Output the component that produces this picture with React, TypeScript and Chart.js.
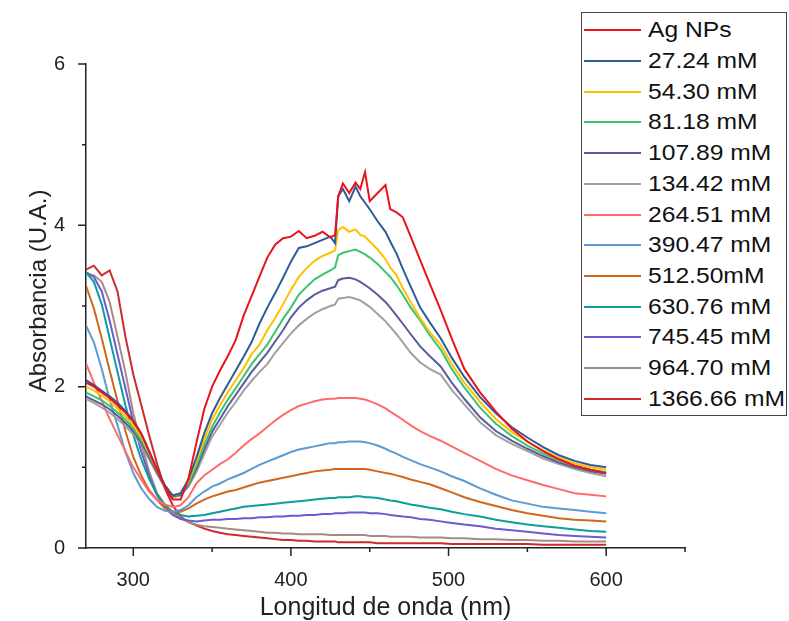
import React, { useEffect, useRef } from "react";
import { Chart, registerables } from "chart.js";

Chart.register(...registerables);

// ---- data ----
const WAVELENGTHS = [270,275,280,285,290,295,300,305,310,315,320,325,330,335,340,345,350,355,360,365,370,375,380,385,390,395,400,405,410,415,420,425,428,430,433,437,441,444,447,450,455,460,463,467,471,476,482,488,495,502,510,520,530,540,550,560,570,580,590,600];

const AG_NPS = [2.05,2.0,1.93,1.86,1.77,1.68,1.57,1.42,1.2,0.97,0.76,0.6,0.6,0.86,1.3,1.72,2.0,2.2,2.38,2.58,2.88,3.12,3.36,3.6,3.76,3.84,3.86,3.93,3.84,3.87,3.92,3.85,
  3.88,4.36,4.52,4.4,4.53,4.45,4.66,4.3,
  4.4,4.5,4.2,4.16,4.1,3.86,3.57,3.28,2.95,
  2.6,2.22,1.93,1.69,1.48,1.32,1.2,1.1,1.02,0.97,0.93];
const S_27_24 = [2.08,2.02,1.95,1.88,1.8,1.7,1.58,1.42,1.2,0.98,0.78,0.65,0.68,0.85,1.12,1.42,1.67,1.86,2.03,2.2,2.37,2.55,2.78,2.98,3.16,3.35,3.55,3.72,3.74,3.78,3.82,3.86,
  3.78,4.36,4.45,4.3,4.48,4.36,4.28,4.2,
  4.05,3.92,3.8,3.65,3.46,3.24,2.98,2.8,2.6,
  2.36,2.12,1.87,1.67,1.5,1.37,1.25,1.15,1.08,1.03,1.0];
const S_54_30 = [2.0,1.95,1.89,1.82,1.73,1.63,1.52,1.38,1.18,0.97,0.77,0.65,0.68,0.83,1.07,1.35,1.59,1.77,1.93,2.08,2.23,2.4,2.52,2.7,2.85,3.02,3.2,3.36,3.47,3.56,3.62,3.66,
  3.69,3.94,3.98,3.92,3.95,3.88,3.86,3.8,
  3.7,3.58,3.48,3.38,3.22,3.05,2.85,2.68,2.52,
  2.28,2.05,1.81,1.6,1.44,1.32,1.21,1.12,1.05,1.0,0.97];
const S_81_18 = [1.93,1.88,1.83,1.76,1.68,1.59,1.48,1.34,1.16,0.96,0.77,0.65,0.67,0.8,1.02,1.28,1.5,1.68,1.84,1.98,2.13,2.28,2.4,2.52,2.68,2.84,2.98,3.14,3.24,3.33,3.39,3.44,
  3.48,3.63,3.66,3.68,3.7,3.67,3.64,3.6,
  3.52,3.42,3.36,3.26,3.14,2.98,2.82,2.64,2.46,
  2.22,1.99,1.74,1.54,1.39,1.27,1.17,1.09,1.02,0.97,0.94];
const S_107_89 = [1.88,1.83,1.78,1.72,1.64,1.55,1.45,1.31,1.13,0.94,0.76,0.64,0.66,0.78,0.98,1.22,1.44,1.6,1.76,1.9,2.04,2.18,2.3,2.42,2.56,2.7,2.86,2.98,3.07,3.14,3.19,3.22,
  3.24,3.32,3.34,3.35,3.33,3.3,3.26,3.22,
  3.14,3.05,2.98,2.88,2.78,2.65,2.5,2.38,2.25,
  2.05,1.85,1.62,1.45,1.33,1.23,1.14,1.06,1.0,0.95,0.92];
const S_134_42 = [1.85,1.8,1.74,1.68,1.6,1.51,1.41,1.28,1.1,0.92,0.75,0.63,0.65,0.76,0.94,1.16,1.38,1.53,1.68,1.81,1.95,2.07,2.18,2.28,2.42,2.54,2.66,2.76,2.84,2.91,2.96,3.0,
  3.02,3.09,3.1,3.11,3.09,3.07,3.03,2.99,
  2.9,2.81,2.74,2.65,2.55,2.42,2.3,2.22,2.15,
  1.96,1.78,1.56,1.4,1.29,1.2,1.11,1.04,0.98,0.93,0.89];
const S_264_51 = [2.29,2.05,1.82,1.6,1.4,1.2,1.0,0.85,0.7,0.6,0.54,0.51,0.53,0.63,0.8,0.9,0.97,1.04,1.1,1.18,1.27,1.35,1.42,1.5,1.58,1.65,1.71,1.76,1.79,1.82,1.84,1.85,
  1.85,1.86,1.86,1.86,1.86,1.85,1.84,1.82,
  1.78,1.73,1.69,1.64,1.59,1.52,1.45,1.39,1.33,
  1.26,1.18,1.08,0.98,0.9,0.84,0.78,0.73,0.68,0.66,0.64];
const S_390_47 = [2.76,2.55,2.22,1.84,1.52,1.19,0.93,0.74,0.61,0.51,0.46,0.45,0.47,0.53,0.63,0.7,0.76,0.8,0.85,0.89,0.93,0.98,1.03,1.07,1.11,1.15,1.19,1.22,1.24,1.26,1.28,1.3,
  1.3,1.31,1.31,1.32,1.32,1.32,1.31,1.3,
  1.27,1.23,1.2,1.17,1.13,1.09,1.04,1.0,0.95,
  0.89,0.83,0.74,0.66,0.59,0.55,0.51,0.49,0.47,0.45,0.43];
const S_512_50 = [3.25,2.97,2.6,2.2,1.82,1.45,1.13,0.9,0.72,0.6,0.49,0.45,0.45,0.49,0.55,0.6,0.64,0.67,0.7,0.72,0.75,0.78,0.81,0.83,0.85,0.87,0.89,0.91,0.93,0.95,0.96,0.97,
  0.98,0.98,0.98,0.98,0.98,0.98,0.98,0.97,
  0.95,0.93,0.92,0.9,0.88,0.85,0.82,0.79,0.74,
  0.69,0.63,0.57,0.52,0.47,0.43,0.4,0.37,0.35,0.34,0.33];
const S_630_76 = [3.42,3.3,3.02,2.6,2.18,1.77,1.4,1.1,0.86,0.66,0.53,0.45,0.41,0.39,0.4,0.41,0.43,0.45,0.47,0.49,0.51,0.52,0.53,0.54,0.55,0.56,0.57,0.58,0.59,0.6,0.61,0.62,
  0.62,0.63,0.63,0.63,0.64,0.64,0.63,0.63,
  0.62,0.6,0.59,0.58,0.56,0.54,0.52,0.5,0.48,
  0.45,0.42,0.39,0.35,0.32,0.29,0.27,0.25,0.23,0.21,0.2];
const S_745_45 = [3.42,3.36,3.18,2.82,2.4,1.98,1.56,1.2,0.9,0.66,0.5,0.41,0.36,0.34,0.33,0.34,0.35,0.35,0.36,0.36,0.37,0.37,0.38,0.38,0.39,0.39,0.4,0.4,0.41,0.41,0.42,0.42,
  0.43,0.43,0.43,0.44,0.44,0.44,0.44,0.43,
  0.43,0.42,0.41,0.4,0.39,0.38,0.36,0.35,0.33,
  0.31,0.29,0.27,0.24,0.22,0.2,0.18,0.16,0.15,0.14,0.13];
const S_964_70 = [3.4,3.38,3.3,3.05,2.62,2.18,1.67,1.3,0.95,0.68,0.54,0.44,0.37,0.32,0.29,0.27,0.26,0.25,0.24,0.23,0.22,0.21,0.2,0.19,0.19,0.18,0.18,0.17,0.17,0.17,0.17,0.16,
  0.16,0.16,0.16,0.16,0.16,0.16,0.16,0.15,
  0.15,0.15,0.14,0.14,0.14,0.14,0.13,0.13,0.13,
  0.12,0.12,0.11,0.11,0.1,0.1,0.09,0.09,0.08,0.08,0.08];
const S_1366_66 = [3.45,3.5,3.38,3.44,3.18,2.62,2.15,1.78,1.4,1.05,0.74,0.53,0.39,0.32,0.28,0.24,0.21,0.19,0.17,0.16,0.15,0.14,0.13,0.12,0.11,0.1,0.1,0.09,0.09,0.08,0.08,0.08,
  0.08,0.07,0.07,0.07,0.07,0.07,0.07,0.07,
  0.06,0.06,0.06,0.06,0.06,0.06,0.06,0.06,0.06,
  0.05,0.05,0.05,0.05,0.05,0.05,0.04,0.04,0.04,0.04,0.04];

const SERIES_LABELS = ["Ag NPs","27.24 mM","54.30 mM","81.18 mM","107.89 mM","134.42 mM","264.51 mM","390.47 mM","512.50mM","630.76 mM","745.45 mM","964.70 mM","1366.66 mM"];
const SERIES_VALUES = [AG_NPS,S_27_24,S_54_30,S_81_18,S_107_89,S_134_42,S_264_51,S_390_47,S_512_50,S_630_76,S_745_45,S_964_70,S_1366_66];
const SERIES_COLORS = ["#e8141c","#2f5b98","#ffc000","#3cc46c","#5a5b9c","#a0a0a0","#ff6b6b","#5b9bd5","#d2661a","#0b9e9b","#6b5bd2","#a68b82","#cc2a2e"];

const X_TICKS = [300,350,400,450,500,550,600,650];
const X_MAJOR = [300,400,500,600];
const Y_TICKS = [0,1,2,3,4,5,6];
const Y_MAJOR = [0,2,4,6];
const Y_TITLE = "Absorbancia (U.A.)";

const FONT = "'Liberation Sans', Arial, sans-serif";

const tickPlugin = {
  id: "manualTicks",
  afterDraw(chart: any) {
    const ctx = chart.ctx;
    const xs = chart.scales.x;
    const ys = chart.scales.y;
    const area = chart.chartArea;
    ctx.save();
    ctx.strokeStyle = "#222";
    ctx.lineWidth = 1.5;
    ctx.beginPath();
    for (const v of X_TICKS) {
      const px = xs.getPixelForValue(v);
      const len = X_MAJOR.includes(v) ? 8 : 4;
      ctx.moveTo(px, area.bottom);
      ctx.lineTo(px, area.bottom + len);
    }
    for (const v of Y_TICKS) {
      const py = ys.getPixelForValue(v);
      const len = Y_MAJOR.includes(v) ? 8 : 4;
      ctx.moveTo(area.left, py);
      ctx.lineTo(area.left - len, py);
    }
    ctx.stroke();
    // y axis title
    ctx.fillStyle = "#222";
    ctx.font = `24px ${FONT}`;
    ctx.textAlign = "center";
    ctx.textBaseline = "middle";
    ctx.translate(area.left - 47, (area.top + area.bottom) / 2 - 15);
    ctx.rotate(-Math.PI / 2);
    ctx.fillText(Y_TITLE, 0, 0);
    ctx.restore();
  },
};

function ChartCanvas() {
  const ref = useRef<HTMLCanvasElement | null>(null);
  useEffect(() => {
    if (!ref.current) return;
    const datasets = SERIES_VALUES.map((vals, i) => ({
      label: SERIES_LABELS[i],
      data: WAVELENGTHS.map((w, j) => ({ x: w, y: vals[j] })),
      borderColor: SERIES_COLORS[i],
      backgroundColor: SERIES_COLORS[i],
      borderWidth: 2,
      pointRadius: 0,
      tension: 0,
      fill: false,
    }));
    const chart = new Chart(ref.current, {
      type: "line",
      data: { datasets },
      plugins: [tickPlugin],
      options: {
        animation: false,
        responsive: false,
        layout: { padding: { left: 0, top: 64, right: 104, bottom: 0 } },
        plugins: { legend: { display: false }, tooltip: { enabled: false } },
        scales: {
          x: {
            type: "linear",
            min: 270,
            max: 650,
            afterBuildTicks: (s: any) => { s.ticks = X_TICKS.map((v) => ({ value: v })); },
            afterFit: (s: any) => { s.height = 73; },
            grid: { display: false },
            border: { display: true, color: "#222", width: 1.5 },
            ticks: {
              autoSkip: false,
              maxRotation: 0,
              padding: 12,
              color: "#222",
              font: { family: FONT, size: 20 },
              callback: (v: any) => (X_MAJOR.includes(Number(v)) ? String(v) : ""),
            },
            title: {
              display: true,
              text: "Longitud de onda (nm)",
              color: "#222",
              font: { family: FONT, size: 25, lineHeight: 1 },
              padding: { top: 0, bottom: 0 },
            },
          },
          y: {
            type: "linear",
            min: 0,
            max: 6,
            afterBuildTicks: (s: any) => { s.ticks = Y_TICKS.map((v) => ({ value: v })); },
            afterFit: (s: any) => { s.width = 86; },
            grid: { display: false },
            border: { display: true, color: "#222", width: 1.5 },
            ticks: {
              autoSkip: false,
              padding: 13,
              color: "#222",
              font: { family: FONT, size: 20 },
              callback: (v: any) => (Y_MAJOR.includes(Number(v)) ? String(v) : ""),
            },
            title: { display: false },
          },
        },
      },
    });
    return () => chart.destroy();
  }, []);
  return <canvas ref={ref} width={789} height={621} style={{ position: "absolute", left: 0, top: 0 }} />;
}

function Legend() {
  return (
    <div
      style={{
        position: "absolute",
        left: 581,
        top: 12,
        width: 206,
        height: 404,
        boxSizing: "border-box",
        border: "1.5px solid #444",
        background: "#fff",
      }}
    >
      {SERIES_LABELS.map((label, i) => (
        <div
          key={label}
          style={{
            position: "absolute",
            left: 0,
            top: 2.3 + i * 30.7,
            height: 30,
            display: "flex",
            alignItems: "center",
            whiteSpace: "nowrap",
          }}
        >
          <div style={{ marginLeft: 2, width: 57, height: 2, background: SERIES_COLORS[i] }} />
          <div
            style={{
              marginLeft: 7,
              fontFamily: FONT,
              fontSize: 22,
              lineHeight: "30px",
              color: "#111",
              transform: "scaleX(1.12)",
              transformOrigin: "left center",
            }}
          >
            {label}
          </div>
        </div>
      ))}
    </div>
  );
}

export default function App() {
  return (
    <div style={{ position: "fixed", left: 0, top: 0, width: 789, height: 621, background: "#fff", overflow: "hidden" }}>
      <ChartCanvas />
      <Legend />
    </div>
  );
}
